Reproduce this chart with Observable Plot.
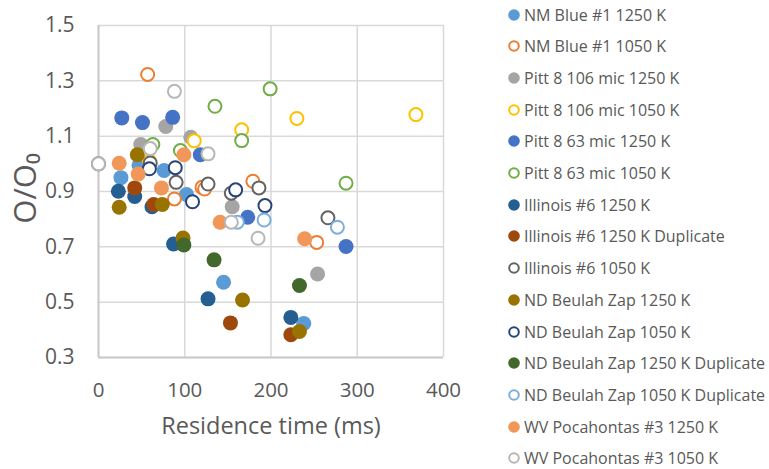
<!DOCTYPE html>
<html><head><meta charset="utf-8">
<script src="https://cdn.jsdelivr.net/npm/d3@7"></script>
<script src="https://cdn.jsdelivr.net/npm/@observablehq/plot@0.6"></script>
<style>
body{margin:0;background:#fff;font-family:"Open Sans",sans-serif;}
#wrap{display:flex;width:769px;height:469px;overflow:hidden;}
#legend{padding-left:48px;margin-top:-1.2px;}
.row{height:31.7px;display:flex;align-items:center;color:#595959;font-size:16px;white-space:nowrap;}
.row svg{margin-right:4px;flex:none;}
</style></head>
<body><div id="wrap"><div id="chart"></div><div id="legend"></div></div>
<script>
// Series (name, marker style, colour)
const seriesNames = [
  "NM Blue #1 1250 K","NM Blue #1 1050 K","Pitt 8 106 mic 1250 K","Pitt 8 106 mic 1050 K",
  "Pitt 8 63 mic 1250 K","Pitt 8 63 mic 1050 K","Illinois #6 1250 K","Illinois #6 1250 K Duplicate",
  "Illinois #6 1050 K","ND Beulah Zap 1250 K","ND Beulah Zap 1050 K","ND Beulah Zap 1250 K Duplicate",
  "ND Beulah Zap 1050 K Duplicate","WV Pocahontas #3 1250 K","WV Pocahontas #3 1050 K"
];
const seriesOpen = [false,true,false,true,false,true,false,false,true,false,true,false,true,false,true];
const seriesColors = ["#5B9BD5","#ED7D31","#A5A5A5","#FFC000","#4472C4","#70AD47","#255E91","#9E480E",
  "#636363","#997300","#264478","#43682B","#7CAFDD","#F1975A","#B7B7B7"];

// [residence time (ms), O/O0]
const nmBlue1250 = [[26,0.95],[47,0.995],[76,0.976],[102,0.889],[145,0.572],[238,0.423]];
const nmBlue1050 = [[57,1.323],[88,0.873],[120,0.915],[123,0.909],[179,0.937],[253,0.716]];
const pitt106_1250 = [[49,1.07],[78,1.135],[107,1.096],[155,0.845],[254,0.602]];
const pitt106_1050 = [[59,1.01],[111,1.083],[166,1.123],[230,1.164],[368,1.178]];
const pitt63_1250 = [[27,1.166],[51,1.149],[86,1.168],[118,1.033],[173,0.807],[287,0.701]];
const pitt63_1050 = [[63,1.07],[95,1.048],[135,1.208],[166,1.084],[199,1.271],[287,0.93]];
const ill6_1250 = [[23,0.901],[42,0.882],[62,0.845],[87,0.71],[127,0.512],[223,0.445]];
const ill6_1250dup = [[42,0.913],[64,0.853],[153,0.425],[223,0.382]];
const ill6_1050 = [[0,1.0],[60,1.003],[90,0.933],[127,0.927],[154,0.894],[186,0.913],[266,0.805]];
const ndbz1250 = [[24,0.843],[45,1.033],[74,0.853],[98,0.732],[167,0.508],[233,0.394]];
const ndbz1050 = [[59,0.982],[89,0.986],[109,0.863],[159,0.906],[193,0.849]];
const ndbz1250dup = [[99,0.707],[134,0.653],[233,0.56]];
const ndbz1050dup = [[161,0.789],[192,0.797],[277,0.771]];
const wvp1250 = [[24,1.002],[46,0.963],[73,0.913],[99,1.033],[141,0.789],[239,0.729]];
const wvp1050 = [[0,1.0],[60,1.055],[88,1.262],[127,1.036],[154,0.789],[185,0.731]];

const seriesData = [nmBlue1250,nmBlue1050,pitt106_1250,pitt106_1050,pitt63_1250,pitt63_1050,
  ill6_1250,ill6_1250dup,ill6_1050,ndbz1250,ndbz1050,ndbz1250dup,ndbz1050dup,wvp1250,wvp1050];

const xTicks = [0,100,200,300,400];
const yTicks = [0.3,0.5,0.7,0.9,1.1,1.3,1.5];
const xTitle = "Residence time (ms)";
const yTitle = "O/O₀";

const textColor = "#595959";
const dotMarks = seriesData.map((pts, i) => {
  const name = seriesNames[i];
  return seriesOpen[i]
    ? Plot.dot(pts, {x: d => d[0], y: d => d[1], r: 6.5, fill: "white", stroke: () => name, strokeWidth: 2})
    : Plot.dot(pts, {x: d => d[0], y: d => d[1], r: 7.5, fill: () => name, stroke: "none"});
});

const chart = Plot.plot({
  width: 460, height: 469,
  marginLeft: 98, marginRight: 17, marginTop: 25, marginBottom: 112,
  style: {fontFamily: "'Open Sans', sans-serif", background: "white", overflow: "visible"},
  x: {domain: [0, 400]},
  y: {domain: [0.3, 1.5]},
  color: {domain: seriesNames, range: seriesColors},
  marks: [
    Plot.gridX(xTicks, {stroke: "#d9d9d9", strokeOpacity: 1, strokeWidth: 1.5}),
    Plot.gridY(yTicks, {stroke: "#d9d9d9", strokeOpacity: 1, strokeWidth: 1.5}),
    Plot.ruleX([0], {stroke: "#c9c9c9", strokeWidth: 2}),
    Plot.ruleY([0.3], {stroke: "#c9c9c9", strokeWidth: 2}),
    Plot.axisX(xTicks, {tickSize: 0, tickPadding: 25, fontSize: 20.5, color: textColor, label: null}),
    Plot.axisY(yTicks, {tickSize: 0, tickPadding: 24, fontSize: 21, color: textColor, label: null, tickFormat: d3.format(".1f")}),
    ...dotMarks,
    Plot.text([xTitle], {frameAnchor: "bottom", lineAnchor: "middle", textAnchor: "middle", dy: 69, fontSize: 23.5, fill: textColor}),
    Plot.text([yTitle], {frameAnchor: "left", lineAnchor: "middle", textAnchor: "middle", dx: -72, dy: -3, rotate: -90, fontSize: 31, fill: textColor})
  ]
});
document.getElementById("chart").appendChild(chart);

const legend = document.getElementById("legend");
seriesNames.forEach((name, i) => {
  const row = document.createElement("div");
  row.className = "row";
  const c = seriesColors[i];
  row.innerHTML = `<svg width="12" height="12" viewBox="0 0 12 12">${seriesOpen[i]
    ? `<circle cx="6" cy="6" r="4.8" fill="white" stroke="${c}" stroke-width="2"/>`
    : `<circle cx="6" cy="6" r="5.8" fill="${c}"/>`}</svg><span>${name}</span>`;
  legend.appendChild(row);
});
</script></body></html>
